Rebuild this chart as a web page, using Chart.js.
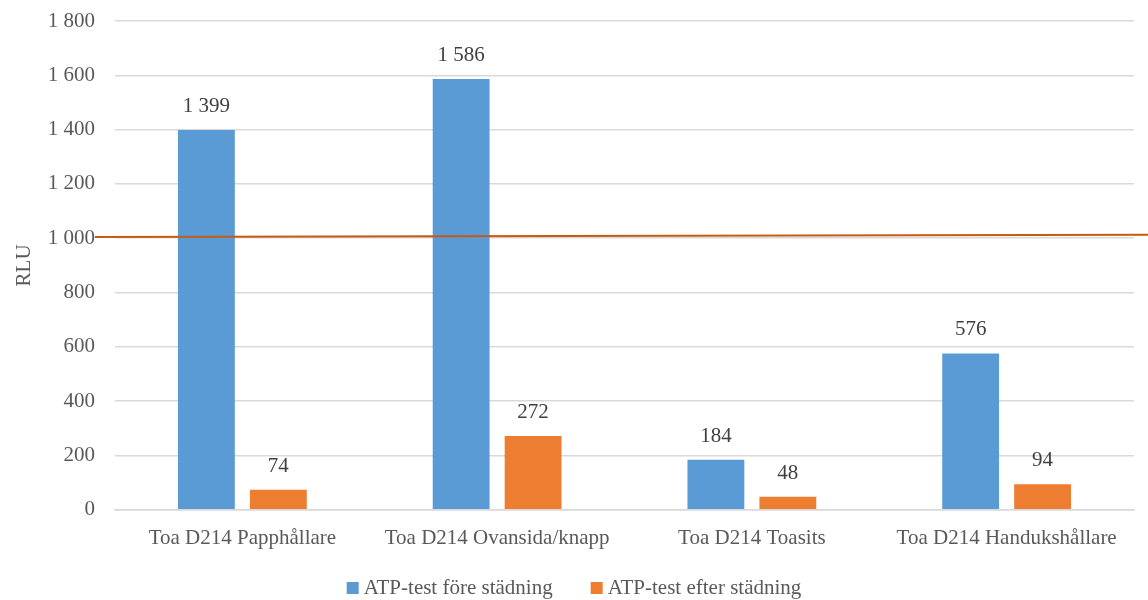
<!DOCTYPE html>
<html>
<head>
<meta charset="utf-8">
<script src="https://cdn.jsdelivr.net/npm/chart.js@4"></script>
<style>
  html, body { margin: 0; padding: 0; background: #fff; }
  #wrap { width: 1148px; height: 600px; }
</style>
</head>
<body>
<div id="wrap"><canvas id="chart"></canvas></div>
<script>
var categories = ["Toa D214 Papphållare", "Toa D214 Ovansida/knapp", "Toa D214 Toasits", "Toa D214 Handukshållare"];
var fore = [1399, 1586, 184, 576];
var efter = [74, 272, 48, 94];
var seriesNames = ["ATP-test före städning", "ATP-test efter städning"];
var seriesColors = ["#5B9BD5", "#ED7D31"];
var limitLine = [1005, 1013]; // gränsvärde, left and right end
var yTicks = [0, 200, 400, 600, 800, 1000, 1200, 1400, 1600, 1800];

function fmt(v) {
    return String(v).replace(/\B(?=(\d{3})+(?!\d))/g, " ");
}

var FONT = "'Liberation Serif', 'DejaVu Serif', serif";
var FS = 21;

var labelPlugin = {
    id: "labels",
    afterDatasetsDraw: function(chart) {
        var ctx = chart.ctx;
        ctx.save();
        ctx.font = FS + "px " + FONT;
        ctx.fillStyle = "#404040";
        ctx.textAlign = "center";
        ctx.textBaseline = "bottom";
        chart.data.datasets.forEach(function(ds, i) {
            chart.getDatasetMeta(i).data.forEach(function(bar, j) {
                ctx.fillText(fmt(ds.data[j]), bar.x, bar.y - 13);
            });
        });
        ctx.restore();
    },
    afterDraw: function(chart) {
        var ctx = chart.ctx;
        var y = chart.scales.y;
        ctx.save();
        // limit line
        ctx.strokeStyle = "#C55A11";
        ctx.lineWidth = 2;
        ctx.beginPath();
        ctx.moveTo(95, y.getPixelForValue(limitLine[0]));
        ctx.lineTo(chart.width, y.getPixelForValue(limitLine[1]));
        ctx.stroke();
        // legend
        ctx.font = FS + "px " + FONT;
        ctx.textBaseline = "middle";
        ctx.textAlign = "left";
        var box = 12, gapText = 5, gapItem = 38;
        var widths = seriesNames.map(function(s) { return ctx.measureText(s).width; });
        var total = widths[0] + widths[1] + 2 * (box + gapText) + gapItem;
        var x = (chart.width - total) / 2;
        var ly = 588;
        seriesNames.forEach(function(s, i) {
            ctx.fillStyle = seriesColors[i];
            ctx.fillRect(x, ly - box / 2, box, box);
            ctx.fillStyle = "#595959";
            ctx.fillText(s, x + box + gapText, ly);
            x += box + gapText + widths[i] + gapItem;
        });
        ctx.restore();
    }
};

new Chart(document.getElementById("chart").getContext("2d"), {
    type: "bar",
    data: {
        labels: categories,
        datasets: seriesNames.map(function(name, i) {
            return {
                label: name,
                data: i === 0 ? fore : efter,
                backgroundColor: seriesColors[i],
            };
        }),
    },
    options: {
        responsive: true,
        maintainAspectRatio: false,
        animation: false,
        categoryPercentage: 0.565,
        barPercentage: 0.79,
        layout: { padding: { top: 21, right: 14, left: 8, bottom: 41 } },
        plugins: {
            legend: { display: false },
            tooltip: { enabled: false },
        },
        scales: {
            x: {
                grid: { display: false },
                border: { color: "#D9D9D9", width: 1.5 },
                ticks: {
                    font: { family: FONT, size: FS },
                    color: "#595959",
                    padding: 8,
                },
            },
            y: {
                min: 0,
                max: 1800,
                afterBuildTicks: function(axis) {
                    axis.ticks = yTicks.map(function(v) { return { value: v }; });
                },
                afterFit: function(axis) {
                    axis.width = 107;
                    axis.paddingTop = 12;
                    axis.paddingBottom = 0;
                },
                grid: { color: "#D9D9D9", lineWidth: 1.5, drawTicks: false },
                border: { display: false },
                ticks: {
                    font: { family: FONT, size: FS },
                    color: "#595959",
                    padding: 20,
                    callback: function(v) { return fmt(v); },
                },
                title: {
                    display: true,
                    text: "RLU",
                    font: { family: FONT, size: FS },
                    color: "#595959",
                    padding: { top: 4, bottom: 0 },
                },
            },
        },
    },
    plugins: [labelPlugin],
});
</script>
</body>
</html>
